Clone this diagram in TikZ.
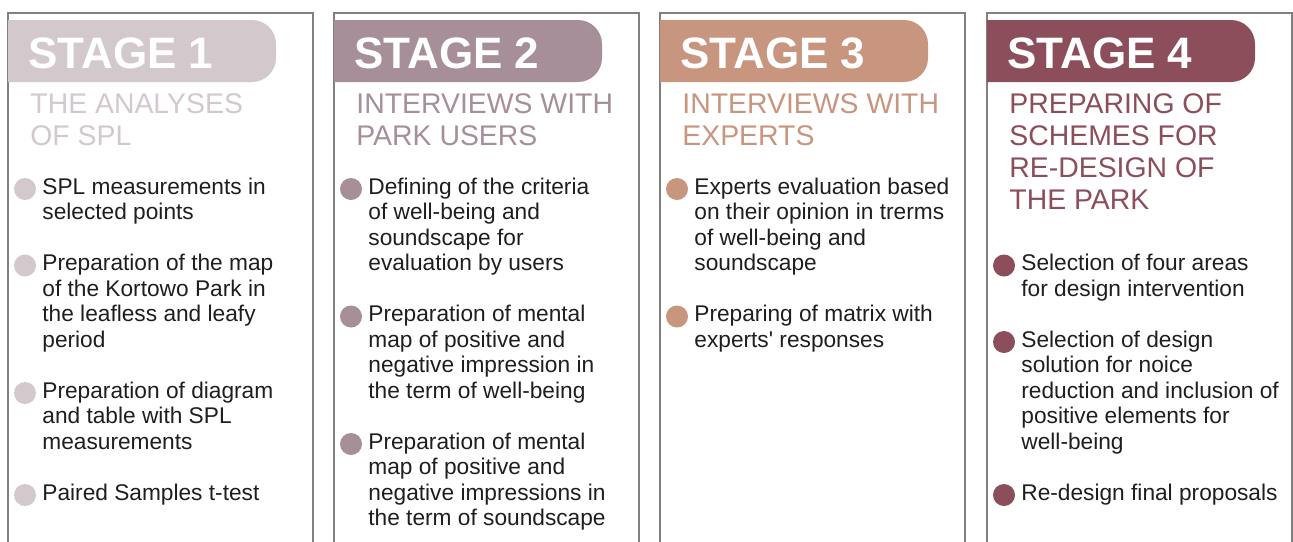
\documentclass[tikz,border=0pt]{standalone}
\usepackage{fontspec}
\setmainfont{Liberation Sans}

\definecolor{stageA}{HTML}{D3C8CC}
\definecolor{stageB}{HTML}{A68F99}
\definecolor{stageC}{HTML}{C8957F}
\definecolor{stageD}{HTML}{8C4E5B}
\definecolor{framegray}{HTML}{808080}
\definecolor{tasktext}{HTML}{1E1E1E}

\begin{document}
\begin{tikzpicture}[x=0.5pt,y=-0.5pt]
\tikzset{
frame/.style={draw=framegray, line width=0.8pt},
title/.style={anchor=base west, inner sep=0pt, text=white,
  font=\fontsize{22}{26}\selectfont\bfseries},
% multi-line nodes sit on the baseline of their last line
topic/.style={anchor=base west, inner sep=0pt, align=left,
  font=\fontsize{14.2}{16}\selectfont},
task/.style={anchor=base west, inner sep=0pt, align=left, text=tasktext,
  font=\fontsize{11.35}{12.75}\selectfont},
dot/.style={circle, fill=#1, inner sep=0pt, minimum size=11pt},
}
\useasboundingbox (0,0) rectangle (1293,541);

% panels with their header bars
\foreach \n/\x/\c in {1/8/stageA, 2/334/stageB, 3/660/stageC, 4/987/stageD}{
  \draw[frame] (\x,545) -- (\x,13) -- (\x+305,13) -- (\x+305,545);
  \fill[\c] (\x,82) -- (\x,20) [rounded corners=12pt] -- (\x+268,20)
    -- (\x+268,82) [sharp corners] -- cycle;
  \node[title] (stage\n) at (\x+20,68) {STAGE \n};
}

% stage topics
\node[topic, text=stageA] (topic1) at (30,145) {THE ANALYSES\\OF SPL};
\node[topic, text=stageB] (topic2) at (356,145) {INTERVIEWS WITH\\PARK USERS};
\node[topic, text=stageC] (topic3) at (682,145) {INTERVIEWS WITH\\EXPERTS};
\node[topic, text=stageD] (topic4) at (1009,209)
  {PREPARING OF\\SCHEMES FOR\\RE-DESIGN OF\\THE PARK};

% stage 1
\node[dot=stageA] (d11) at (25,189) {};
\node[task] (t11) at (42,219.5) {SPL measurements in\\selected points};
\node[dot=stageA] (d12) at (25,265.5) {};
\node[task] (t12) at (42,347) {Preparation of the map\\of the Kortowo Park in\\the leafless and leafy\\period};
\node[dot=stageA] (d13) at (25,393) {};
\node[task] (t13) at (42,449) {Preparation of diagram\\and table with SPL\\measurements};
\node[dot=stageA] (d14) at (25,495) {};
\node[task] (t14) at (42,500) {Paired Samples t-test};

% stage 2
\node[dot=stageB] (d21) at (351,189) {};
\node[task] (t21) at (368,270.5) {Defining of the criteria\\of well-being and\\soundscape for\\evaluation by users};
\node[dot=stageB] (d22) at (351,316.5) {};
\node[task] (t22) at (368,398) {Preparation of mental\\map of positive and\\negative impression in\\the term of well-being};
\node[dot=stageB] (d23) at (351,444) {};
\node[task] (t23) at (368,525.5) {Preparation of mental\\map of positive and\\negative impressions in\\the term of soundscape};

% stage 3
\node[dot=stageC] (d31) at (677,189) {};
\node[task] (t31) at (694,270.5) {Experts evaluation based\\on their opinion in trerms\\of well-being and\\soundscape};
\node[dot=stageC] (d32) at (677,316.5) {};
\node[task] (t32) at (694,347) {Preparing of matrix with\\experts\textquotesingle{} responses};

% stage 4
\node[dot=stageD] (d41) at (1004,265.5) {};
\node[task] (t41) at (1021,296) {Selection of four areas\\for design intervention};
\node[dot=stageD] (d42) at (1004,342) {};
\node[task] (t42) at (1021,449) {Selection of design\\solution for noice\\reduction and inclusion of\\positive elements for\\well-being};
\node[dot=stageD] (d43) at (1004,495) {};
\node[task] (t43) at (1021,500) {Re-design final proposals};

\end{tikzpicture}
\end{document}
